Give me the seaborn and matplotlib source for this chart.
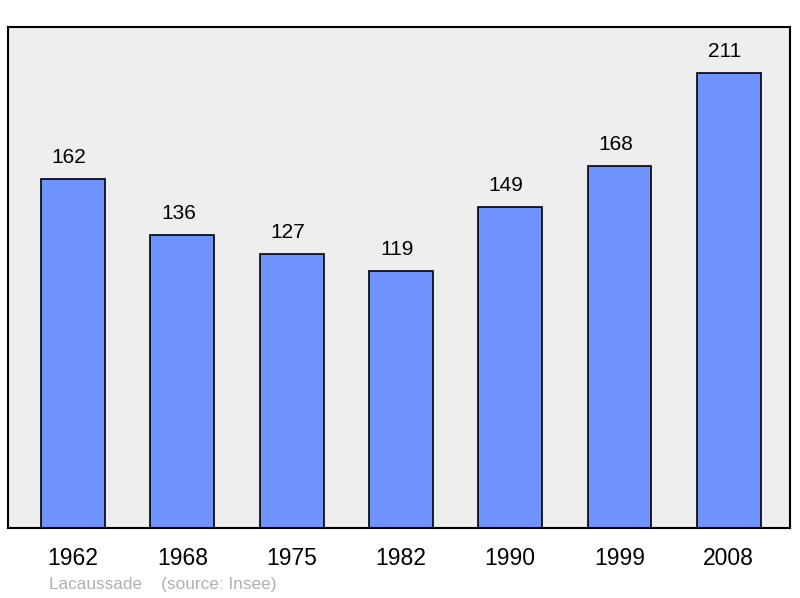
import matplotlib
matplotlib.use('Agg')
import matplotlib.pyplot as plt
import matplotlib.transforms as mtransforms
import seaborn as sns
import pandas as pd

years = ['1962', '1968', '1975', '1982', '1990', '1999', '2008']
population = [162, 136, 127, 119, 149, 168, 211]

sns.set_style('white')
plt.rcParams['font.family'] = ['Liberation Sans', 'DejaVu Sans']
plt.rcParams['text.color'] = 'black'
plt.rcParams['xtick.color'] = 'black'

df = pd.DataFrame({'year': years, 'pop': population})

fig = plt.figure(figsize=(8, 5.98), dpi=100)
ax = fig.add_axes([8 / 800, 70 / 598, 782 / 800, 501 / 598])
ax.set_facecolor('#eeeeee')

sns.barplot(data=df, x='year', y='pop', color='#7094ff', saturation=1,
            width=0.585, edgecolor='black', linewidth=1.2, ax=ax)

# value labels sit a little left of the bar centre in the original
shift = mtransforms.offset_copy(ax.transData, fig=fig, x=-4, y=0, units='dots')
for i, v in enumerate(population):
    ax.text(i, v + 10, str(v), ha='center', va='center', fontsize=15,
            color='black', transform=shift)

ax.set_xlim(-0.595, 6.56)
ax.set_ylim(0, 232.4)
ax.set_yticks([])
ax.set_xlabel('')
ax.set_ylabel('')
ax.tick_params(axis='x', length=0, pad=14, labelsize=16.5, labelcolor='black')
for s in ax.spines.values():
    s.set_linewidth(1.5)
    s.set_color('black')

fig.text(49 / 800, 1 - 585 / 598, 'Lacaussade    (source: Insee)', color='#b0b0b0',
         fontsize=12.4, va='center', ha='left')

fig.savefig('out.png', dpi=100)
